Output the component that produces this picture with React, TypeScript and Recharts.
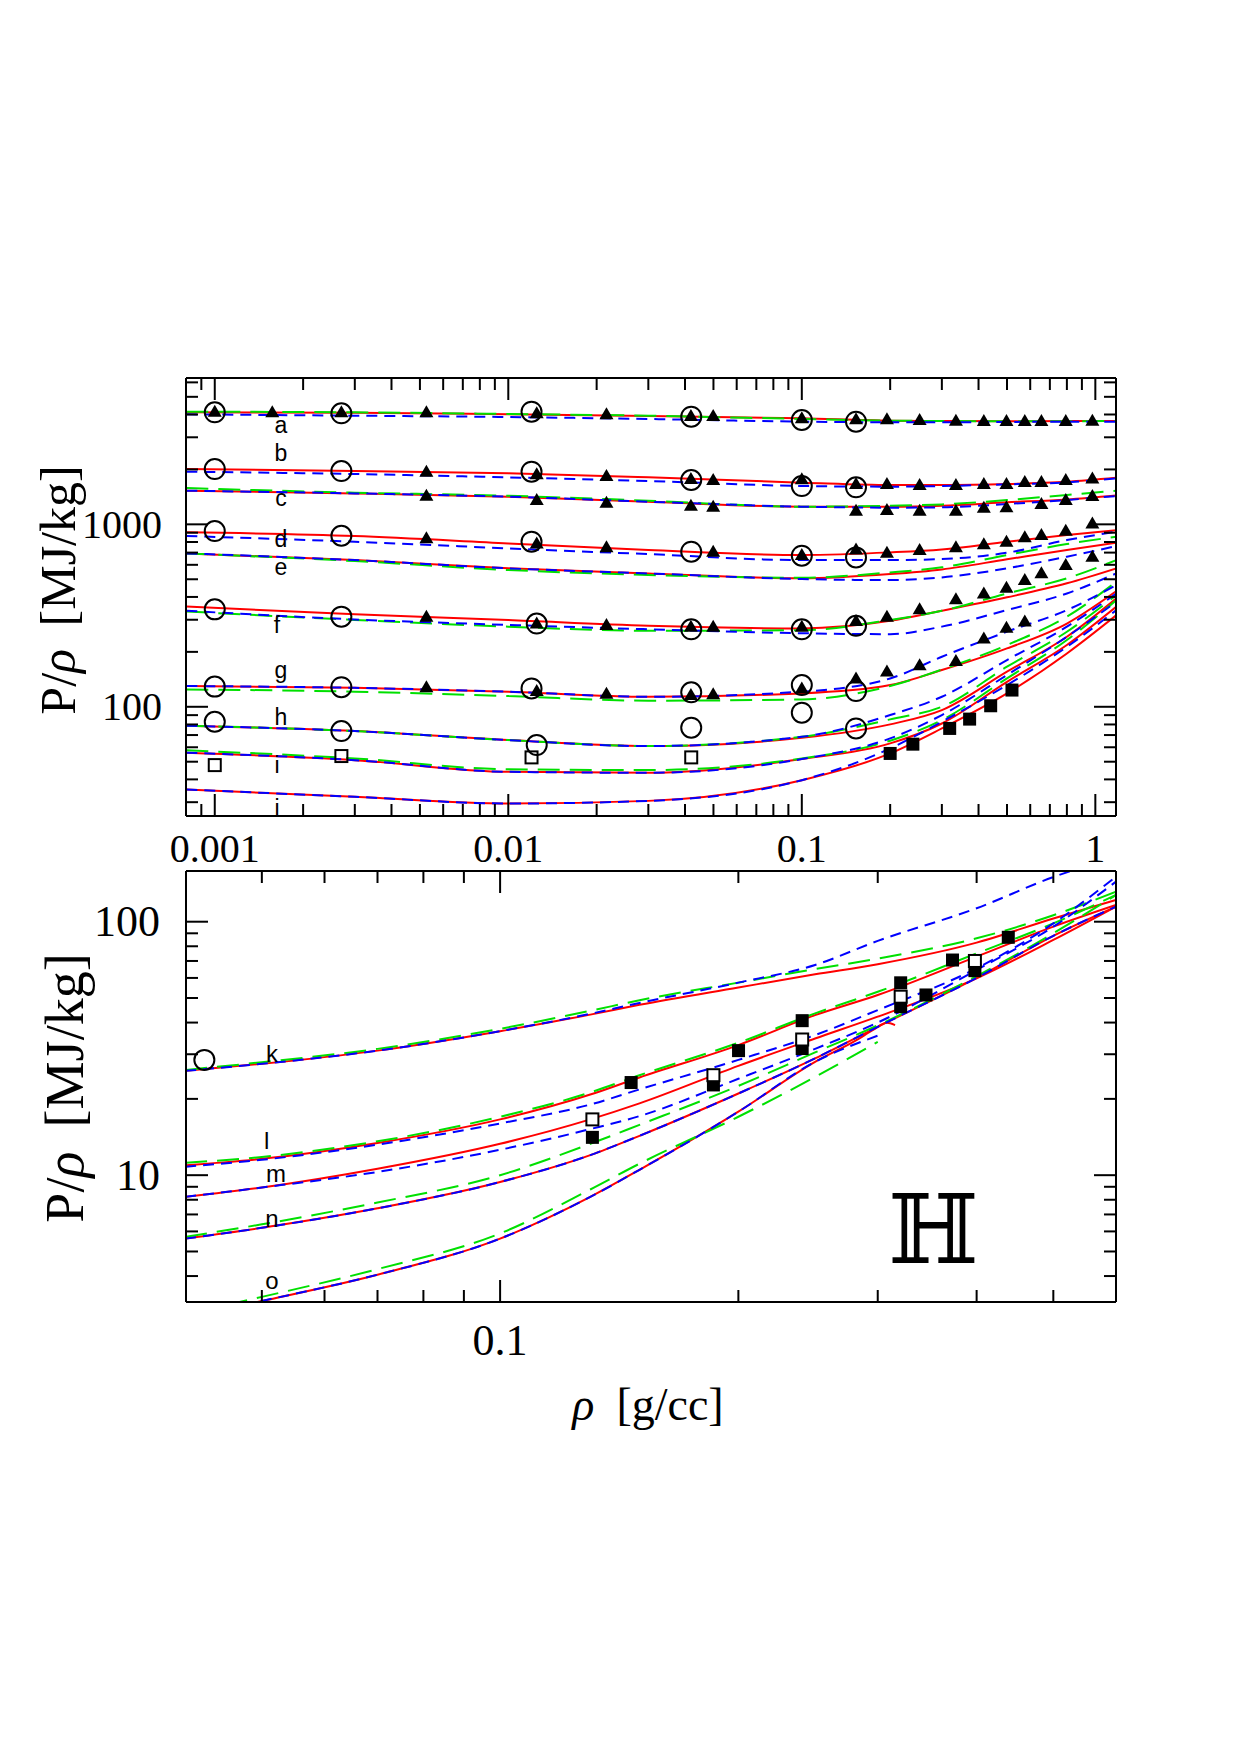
import React from 'react';
import { ComposedChart, Line, Scatter, XAxis, YAxis } from 'recharts';

const RED = '#ff0000';
const BLUE = '#0000ff';
const GREEN = '#00e000';
const SERIF = '"Liberation Serif", "DejaVu Serif", serif';
const SANS = '"Liberation Sans", Arial, sans-serif';

// ---- upper panel: isochores a–j, P/rho vs rho ----
const TOP_X = [0.0008, 0.003, 0.01, 0.03, 0.1, 0.2, 0.3, 0.5, 0.8, 1.18];

const aRed = [4110, 4090, 4010, 3925, 3810, 3700, 3685, 3670, 3685, 3685];
const aBlue = [4010, 3940, 3875, 3780, 3655, 3625, 3625, 3640, 3655, 3655];
const aGreen = [4145, 4110, 4025, 3940, 3780, 3700, 3685, 3670, 3670, 3685];
const bRed = [2010, 1960, 1903, 1809, 1692, 1642, 1642, 1663, 1713, 1802];
const bBlue = [1944, 1887, 1809, 1728, 1622, 1609, 1622, 1656, 1699, 1786];
const cRed = [1529, 1478, 1417, 1331, 1250, 1250, 1265, 1320, 1370, 1441];
const cBlue = [1529, 1478, 1417, 1331, 1250, 1234, 1239, 1292, 1359, 1429];
const cGreen = [1581, 1491, 1435, 1348, 1250, 1265, 1286, 1359, 1448, 1529];
const dRed = [904, 863, 786, 723, 679, 702, 729, 803, 874, 930];
const dBlue = [863, 803, 738, 687, 637, 637, 645, 699, 820, 911];
const eRed = [693, 637, 574, 538, 506, 534, 566, 643, 723, 793];
const eBlue = [693, 637, 574, 538, 501, 495, 512, 574, 665, 760];
const eGreen = [693, 629, 562, 528, 510, 545, 581, 679, 780, 856];
const fRed = [354, 322, 299, 278, 269, 296, 336, 398, 475, 574];
const fBlue = [336, 301, 281, 266, 253, 250, 275, 339, 418, 539];
const fGreen = [333, 299, 275, 261, 263, 299, 336, 418, 506, 637];
const gRed = [130, 127, 121, 113.5, 118.4, 131.5, 159, 209, 286, 431];
const gBlue = [130, 127, 121, 113.5, 121, 143, 188, 258, 339, 465];
const gGreen = [124.5, 121, 114.5, 108, 109.7, 130, 160, 218, 312, 485];
const hRed = [78.7, 73.6, 65.7, 60.9, 67.6, 80.1, 95.9, 155.7, 242, 393];
const hBlue = [78.7, 73.6, 65.7, 60.9, 68.5, 90.1, 113.5, 180.4, 274.7, 418];
const hGreen = [78.7, 73.6, 65.7, 60.9, 68.5, 85.3, 100, 165.8, 257.9, 409.6];
const iRed = [56, 51, 44, 43.5, 51.7, 63, 81, 137, 218, 354];
const iBlue = [56, 51, 44, 43.5, 51.7, 67.1, 90.1, 149.3, 242, 376.6];
const iGreen = [57.7, 52.1, 45.4, 45, 52.1, 65.2, 84.6, 143.1, 232.2, 384.6];
const jRed = [35.2, 32.1, 29.5, 30.5, 39.6, 55.5, 76.1, 118.4, 196, 318];
const jBlue = [35.2, 32.1, 29.5, 30.5, 39.6, 59.1, 82.8, 131.5, 213, 339];

const topCircles = [
  [0.001, 4111], [0.0027, 4059], [0.012, 4145], [0.042, 3891], [0.1, 3732], [0.153, 3654],
  [0.001, 2010], [0.0027, 1960], [0.012, 1944], [0.042, 1750], [0.1, 1622], [0.153, 1595],
  [0.001, 919], [0.0027, 866], [0.012, 803], [0.042, 708], [0.1, 673], [0.153, 659],
  [0.001, 342], [0.0027, 312], [0.0125, 286], [0.042, 266], [0.1, 266], [0.153, 278],
  [0.001, 129], [0.0027, 128], [0.012, 126], [0.042, 120], [0.1, 131.5], [0.153, 122],
  [0.001, 82.8], [0.0027, 73.6], [0.0125, 61.7], [0.042, 76.8], [0.1, 92.8], [0.153, 76.1],
];

const triA = [
  [0.001, 4145], [0.00157, 4111], [0.0027, 4111], [0.00526, 4111], [0.0125, 4059], [0.0216, 4008],
  [0.0419, 3924], [0.0499, 3924], [0.1, 3811], [0.153, 3763], [0.195, 3763], [0.252, 3732],
  [0.335, 3700], [0.417, 3686], [0.498, 3686], [0.575, 3686], [0.655, 3686], [0.793, 3686], [0.977, 3700],
];
const triB = [
  [0.00526, 1944], [0.0125, 1879], [0.0216, 1840], [0.0419, 1772], [0.0499, 1750], [0.1, 1764],
  [0.153, 1663], [0.195, 1663], [0.252, 1642], [0.335, 1642], [0.417, 1663], [0.498, 1663],
  [0.575, 1706], [0.655, 1706], [0.793, 1750], [0.977, 1786],
];
const triC = [
  [0.00526, 1435], [0.0125, 1359], [0.0216, 1314], [0.0419, 1265], [0.0499, 1250], [0.153, 1188],
  [0.195, 1198], [0.252, 1188], [0.335, 1188], [0.417, 1234], [0.498, 1239], [0.655, 1292],
  [0.793, 1359], [0.977, 1429],
];
const triD = [
  [0.00526, 838], [0.0125, 786], [0.0216, 748], [0.0499, 708], [0.1, 679], [0.153, 729],
  [0.195, 699], [0.252, 723], [0.335, 748], [0.417, 777], [0.498, 803], [0.575, 849],
  [0.655, 874], [0.793, 923], [0.977, 1012],
];
const triF = [
  [0.00526, 312], [0.0125, 286], [0.0216, 281], [0.0419, 275], [0.0499, 275], [0.1, 275],
  [0.153, 295], [0.195, 312], [0.252, 342], [0.335, 388], [0.417, 418], [0.498, 449],
  [0.575, 495], [0.655, 539], [0.793, 598], [0.977, 665],
];
const triG = [
  [0.00526, 128], [0.0125, 122], [0.0216, 118], [0.0419, 116], [0.0499, 117], [0.1, 126],
  [0.153, 143], [0.195, 156], [0.252, 169], [0.335, 178], [0.417, 237], [0.498, 271], [0.575, 293],
];
const topOpenSquares = [[0.001, 47.9], [0.0027, 53.7], [0.012, 52.8], [0.042, 52.8]];
const topFilledSquares = [[0.2, 55.5], [0.239, 62.4], [0.319, 76.1], [0.373, 85.6], [0.44, 101.3], [0.52, 123.5]];

const topLetters = [
  [0.00168, 3499, 'a'], [0.00168, 2460, 'b'], [0.00168, 1393, 'c'], [0.00168, 830, 'd'],
  [0.00168, 585, 'e'], [0.00163, 281, 'f'], [0.00168, 159, 'g'], [0.00168, 88.1, 'h'],
  [0.00163, 47.9, 'i'], [0.00163, 27.8, 'j'],
];

const TOP_X_TICKS = [
  0.0009, 0.001, 0.002, 0.003, 0.004, 0.005, 0.006, 0.007, 0.008, 0.009,
  0.01, 0.02, 0.03, 0.04, 0.05, 0.06, 0.07, 0.08, 0.09,
  0.1, 0.2, 0.3, 0.4, 0.5, 0.6, 0.7, 0.8, 0.9, 1,
];
const TOP_X_MAJOR = [0.001, 0.01, 0.1, 1];
const TOP_Y_TICKS = [
  30, 40, 50, 60, 70, 80, 90, 100, 200, 300, 400, 500, 600, 700, 800, 900,
  1000, 2000, 3000, 4000, 5000, 6000,
];
const TOP_Y_MAJOR = [100, 1000];

// ---- lower panel: isochores k–o ----
const BOT_X = [0.04, 0.05, 0.07, 0.1, 0.13, 0.15, 0.2, 0.25, 0.3, 0.4, 0.5, 0.6];

const kRed = [25.8, 27.5, 31, 37, 43, 47, 55, 62, 68, 82.7, 103, 121.8];
const kBlue = [25.8, 27.5, 31, 37, 43.3, 47.8, 57.5, 67.5, 84, 113, 150, 180];
const kGreen = [26, 27.9, 31.5, 37.8, 44.5, 49, 57.5, 65, 71.5, 86, 106, 131.4];
const lRed = [10.95, 11.6, 13.4, 16.6, 20.8, 24.3, 32.6, 42.8, 51.4, 72.8, 95.6, 116.4];
const lBlue = [10.8, 11.5, 13.2, 16.0, 19.0, 21.8, 28.5, 35.7, 44.8, 65.5, 98.5, 150.6];
const lGreen = [11.2, 11.8, 13.6, 17.0, 21.2, 24.8, 33.3, 43.5, 52.9, 75.0, 98.5, 127.5];
const mRed = [8.21, 8.94, 10.6, 13.3, 16.6, 19.2, 27.0, 34.6, 42.2, 59.8, 84.7, 114.7];
const mBlue = [8.21, 8.94, 10.3, 12.6, 15.2, 17.1, 24.0, 31.5, 40.0, 64.5, 95.6, 143.9];
const nRed = [5.62, 6.2, 7.4, 9.4, 12.0, 14.3, 21.0, 28.9, 38.5, 60.0, 88.0, 114.7];
const nBlue = [5.62, 6.2, 7.4, 9.4, 12.0, 14.3, 21.0, 28.9, 38.5, 60.0, 88.0, 114.7];
const nGreen = [5.71, 6.4, 7.8, 10.0, 13.3, 15.8, 22.5, 30.5, 39.0, 61.0, 90.0, 127.5];

const oRedX = [0.045, 0.05, 0.07, 0.1, 0.13, 0.15, 0.2, 0.25, 0.282, 0.296, 0.308, 0.3155];
const oRed = [2.97, 3.19, 4.05, 5.62, 8.21, 10.5, 17.8, 28.0, 34.1, 37.4, 39.9, 39.1];
const oBlueX = [0.045, 0.05, 0.07, 0.1, 0.13, 0.15, 0.2, 0.25, 0.3];
const oBlue = [2.97, 3.19, 4.05, 5.62, 8.21, 10.5, 17.8, 28.0, 35.5];
const oGreenX = [0.045, 0.05, 0.07, 0.1, 0.13, 0.15, 0.2, 0.25, 0.3];
const oGreen = [3.07, 3.31, 4.26, 5.89, 8.78, 11.1, 17.0, 24.4, 33.6];

const botFilledSquares = [
  [0.1308, 14.1], [0.1464, 23.2], [0.186, 22.7], [0.2001, 31.0], [0.2408, 40.7], [0.2408, 31.6],
  [0.3207, 57.4], [0.3207, 46.2], [0.3452, 51.4], [0.3729, 70.6], [0.398, 64.1], [0.4386, 86.8],
];
const botOpenSquares = [[0.1308, 16.6], [0.186, 24.8], [0.2408, 34.3], [0.3207, 50.6], [0.398, 70.0]];
const botCircles = [[0.0423, 28.5]];
const botLetters = [
  [0.0515, 30.3, 'k'], [0.0507, 13.75, 'l'], [0.0521, 10.2, 'm'], [0.0515, 6.77, 'n'], [0.0515, 3.85, 'o'],
];
const elementTag = [[0.353, 6.07, '\u210D']];

const BOT_X_TICKS = [0.05, 0.06, 0.07, 0.08, 0.09, 0.1, 0.2, 0.3, 0.4, 0.5];
const BOT_X_MAJOR = [0.1];
const BOT_Y_TICKS = [4, 5, 6, 7, 8, 9, 10, 20, 30, 40, 50, 60, 70, 80, 90, 100];
const BOT_Y_MAJOR = [10, 100];

const pts = (xs: number[], ys: number[]) => xs.map((x, i) => ({ x, y: ys[i] }));
const marks = (list: any[][]) => list.map(([x, y, t]) => ({ x, y, t }));

const isMajor = (majors: number[], v: number) => majors.some((m) => Math.abs(m - v) / m < 1e-6);

// inward-pointing ticks; labels only on the outer side of the frame
function axisTick(side: string, majors: number[], showLabels: boolean, fontSize = 40, gap = 0) {
  return (props: any) => {
    const { x, y, payload } = props;
    const v = payload.value;
    const major = isMajor(majors, v);
    const len = major ? 22 : 12;
    let line;
    let label = null;
    if (side === 'bottom') {
      line = <line x1={x} y1={y} x2={x} y2={y - len} />;
      if (showLabels && major)
        label = (
          <text x={x} y={y + gap} textAnchor="middle" fontSize={fontSize} fontFamily={SERIF} fill="#000" stroke="none">
            {String(v)}
          </text>
        );
    } else if (side === 'top') {
      line = <line x1={x} y1={y} x2={x} y2={y + len} />;
    } else if (side === 'left') {
      line = <line x1={x} y1={y} x2={x + len} y2={y} />;
      if (showLabels && major)
        label = (
          <text x={x - gap} y={y + fontSize * 0.33} textAnchor="end" fontSize={fontSize} fontFamily={SERIF} fill="#000" stroke="none">
            {String(v)}
          </text>
        );
    } else {
      line = <line x1={x} y1={y} x2={x - len} y2={y} />;
    }
    return (
      <g stroke="#000" strokeWidth={2}>
        {line}
        {label}
      </g>
    );
  };
}

const openCircle = (p: any) => <circle cx={p.cx} cy={p.cy} r={10} fill="none" stroke="#000" strokeWidth={2} />;
const triangle = (p: any) => (
  <polygon points={`${p.cx},${p.cy - 7} ${p.cx - 7},${p.cy + 5} ${p.cx + 7},${p.cy + 5}`} fill="#000" />
);
const openSquare = (fill: string) => (p: any) => (
  <rect x={p.cx - 6} y={p.cy - 6} width={12} height={12} fill={fill} stroke="#000" strokeWidth={2} />
);
const filledSquare = (p: any) => <rect x={p.cx - 6.5} y={p.cy - 6.5} width={13} height={13} fill="#000" />;
const textMark = (fontSize: number, family: string) => (p: any) => (
  <text x={p.cx} y={p.cy} textAnchor="middle" dominantBaseline="central" fontSize={fontSize} fontFamily={family} fill="#000">
    {p.payload.t}
  </text>
);

function curve(key: string, xs: number[], ys: number[], color: string, dash?: string) {
  return (
    <Line
      key={key}
      data={pts(xs, ys)}
      dataKey="y"
      type="monotone"
      stroke={color}
      strokeWidth={2}
      strokeDasharray={dash}
      dot={false}
      isAnimationActive={false}
    />
  );
}

function markers(key: string, list: any[][], shape: any) {
  return <Scatter key={key} data={marks(list)} dataKey="y" shape={shape} isAnimationActive={false} />;
}

const GREEN_DASH = '22 10';
const BLUE_DASH = '11 7';

function Frame({ xDomain, yDomain, xTicks, xMajor, yTicks, yMajor, xFont, xGap, yFont, yGap, anchor }: any) {
  return [
    <XAxis
      key="xb"
      xAxisId={0}
      dataKey="x"
      type="number"
      scale="log"
      domain={xDomain}
      allowDataOverflow
      ticks={xTicks}
      interval={0}
      tickSize={0}
      tickMargin={0}
      height={40}
      axisLine={{ stroke: '#000', strokeWidth: 2 }}
      tickLine={false}
      tick={axisTick('bottom', xMajor, true, xFont, xGap)}
    />,
    <XAxis
      key="xt"
      xAxisId="top"
      orientation="top"
      dataKey="x"
      type="number"
      scale="log"
      domain={xDomain}
      allowDataOverflow
      ticks={xTicks}
      interval={0}
      tickSize={0}
      tickMargin={0}
      height={10}
      axisLine={{ stroke: '#000', strokeWidth: 2 }}
      tickLine={false}
      tick={axisTick('top', xMajor, false)}
    />,
    <YAxis
      key="yl"
      yAxisId={0}
      dataKey="y"
      type="number"
      scale="log"
      domain={yDomain}
      allowDataOverflow
      ticks={yTicks}
      interval={0}
      tickSize={0}
      tickMargin={0}
      width={60}
      axisLine={{ stroke: '#000', strokeWidth: 2 }}
      tickLine={false}
      tick={axisTick('left', yMajor, true, yFont, yGap)}
    />,
    <YAxis
      key="yr"
      yAxisId="right"
      orientation="right"
      dataKey="y"
      type="number"
      scale="log"
      domain={yDomain}
      allowDataOverflow
      ticks={yTicks}
      interval={0}
      tickSize={0}
      tickMargin={0}
      width={10}
      axisLine={{ stroke: '#000', strokeWidth: 2 }}
      tickLine={false}
      tick={axisTick('right', yMajor, false)}
    />,
    // keeps the mirrored frame axes bound to a series
    <Line
      key="anchor"
      xAxisId="top"
      yAxisId="right"
      data={anchor}
      dataKey="y"
      stroke="none"
      dot={false}
      isAnimationActive={false}
    />,
  ];
}

function UpperPanel() {
  return (
    <ComposedChart width={1240} height={900} margin={{ top: 368, right: 114, bottom: 44, left: 126 }}>
      {Frame({
        xDomain: [0.000798, 1.176],
        yDomain: [25.2, 6340],
        xTicks: TOP_X_TICKS,
        xMajor: TOP_X_MAJOR,
        yTicks: TOP_Y_TICKS,
        yMajor: TOP_Y_MAJOR,
        xFont: 40,
        xGap: 46,
        yFont: 40,
        yGap: 24,
        anchor: pts(TOP_X, aRed),
      })}
      {curve('aR', TOP_X, aRed, RED)}
      {curve('bR', TOP_X, bRed, RED)}
      {curve('cR', TOP_X, cRed, RED)}
      {curve('dR', TOP_X, dRed, RED)}
      {curve('eR', TOP_X, eRed, RED)}
      {curve('fR', TOP_X, fRed, RED)}
      {curve('gR', TOP_X, gRed, RED)}
      {curve('hR', TOP_X, hRed, RED)}
      {curve('iR', TOP_X, iRed, RED)}
      {curve('jR', TOP_X, jRed, RED)}
      {curve('aG', TOP_X, aGreen, GREEN, GREEN_DASH)}
      {curve('cG', TOP_X, cGreen, GREEN, GREEN_DASH)}
      {curve('eG', TOP_X, eGreen, GREEN, GREEN_DASH)}
      {curve('fG', TOP_X, fGreen, GREEN, GREEN_DASH)}
      {curve('gG', TOP_X, gGreen, GREEN, GREEN_DASH)}
      {curve('hG', TOP_X, hGreen, GREEN, GREEN_DASH)}
      {curve('iG', TOP_X, iGreen, GREEN, GREEN_DASH)}
      {curve('aB', TOP_X, aBlue, BLUE, BLUE_DASH)}
      {curve('bB', TOP_X, bBlue, BLUE, BLUE_DASH)}
      {curve('cB', TOP_X, cBlue, BLUE, BLUE_DASH)}
      {curve('dB', TOP_X, dBlue, BLUE, BLUE_DASH)}
      {curve('eB', TOP_X, eBlue, BLUE, BLUE_DASH)}
      {curve('fB', TOP_X, fBlue, BLUE, BLUE_DASH)}
      {curve('gB', TOP_X, gBlue, BLUE, BLUE_DASH)}
      {curve('hB', TOP_X, hBlue, BLUE, BLUE_DASH)}
      {curve('iB', TOP_X, iBlue, BLUE, BLUE_DASH)}
      {curve('jB', TOP_X, jBlue, BLUE, BLUE_DASH)}
      {markers('circ', topCircles, openCircle)}
      {markers('tA', triA, triangle)}
      {markers('tB', triB, triangle)}
      {markers('tC', triC, triangle)}
      {markers('tD', triD, triangle)}
      {markers('tF', triF, triangle)}
      {markers('tG', triG, triangle)}
      {markers('sqO', topOpenSquares, openSquare('none'))}
      {markers('sqF', topFilledSquares, filledSquare)}
      {markers('lbl', topLetters, textMark(23, SANS))}
    </ComposedChart>
  );
}

function LowerPanel() {
  return (
    <ComposedChart width={1240} height={600} margin={{ top: 21, right: 114, bottom: 98, left: 126 }}>
      {Frame({
        xDomain: [0.0401, 0.6],
        yDomain: [3.16, 158.5],
        xTicks: BOT_X_TICKS,
        xMajor: BOT_X_MAJOR,
        yTicks: BOT_Y_TICKS,
        yMajor: BOT_Y_MAJOR,
        xFont: 44,
        xGap: 53,
        yFont: 44,
        yGap: 26,
        anchor: pts(BOT_X, kRed),
      })}
      {curve('kR', BOT_X, kRed, RED)}
      {curve('lR', BOT_X, lRed, RED)}
      {curve('mR', BOT_X, mRed, RED)}
      {curve('nR', BOT_X, nRed, RED)}
      {curve('oR', oRedX, oRed, RED)}
      {curve('kG', BOT_X, kGreen, GREEN, GREEN_DASH)}
      {curve('lG', BOT_X, lGreen, GREEN, GREEN_DASH)}
      {curve('nG', BOT_X, nGreen, GREEN, GREEN_DASH)}
      {curve('oG', oGreenX, oGreen, GREEN, GREEN_DASH)}
      {curve('kB', BOT_X, kBlue, BLUE, BLUE_DASH)}
      {curve('lB', BOT_X, lBlue, BLUE, BLUE_DASH)}
      {curve('mB', BOT_X, mBlue, BLUE, BLUE_DASH)}
      {curve('nB', BOT_X, nBlue, BLUE, BLUE_DASH)}
      {curve('oB', oBlueX, oBlue, BLUE, BLUE_DASH)}
      {markers('bsqF', botFilledSquares, filledSquare)}
      {markers('bsqO', botOpenSquares, openSquare('#fff'))}
      {markers('bcirc', botCircles, openCircle)}
      {markers('blbl', botLetters, textMark(24, SANS))}
      {markers('tag', elementTag, textMark(96, '"DejaVu Serif", serif'))}
    </ComposedChart>
  );
}

function AxisTitle({ x, y, size, rotate }: any) {
  return (
    <text
      x={x}
      y={y}
      textAnchor="middle"
      fontSize={size}
      fontFamily={SERIF}
      fill="#000"
      transform={rotate ? `rotate(-90 ${x} ${y})` : undefined}
    >
      P/<tspan fontStyle="italic">ρ</tspan>
      <tspan dx={size * 0.45}>[MJ/kg]</tspan>
    </text>
  );
}

export default function App() {
  return (
    <div style={{ position: 'absolute', left: 0, top: 0, width: 1240, height: 1755, background: '#fff', overflow: 'hidden' }}>
      <div style={{ position: 'absolute', left: 0, top: 0 }}>
        <UpperPanel />
      </div>
      <div style={{ position: 'absolute', left: 0, top: 840 }}>
        <LowerPanel />
      </div>
      <svg width={1240} height={1755} style={{ position: 'absolute', left: 0, top: 0, pointerEvents: 'none' }}>
        <AxisTitle x={75} y={590} size={50} rotate />
        <AxisTitle x={83} y={1088} size={54} rotate />
        <text x={648} y={1420} textAnchor="middle" fontSize={46} fontFamily={SERIF} fill="#000">
          <tspan fontStyle="italic">ρ</tspan>
          <tspan dx={22}>[g/cc]</tspan>
        </text>
      </svg>
    </div>
  );
}
